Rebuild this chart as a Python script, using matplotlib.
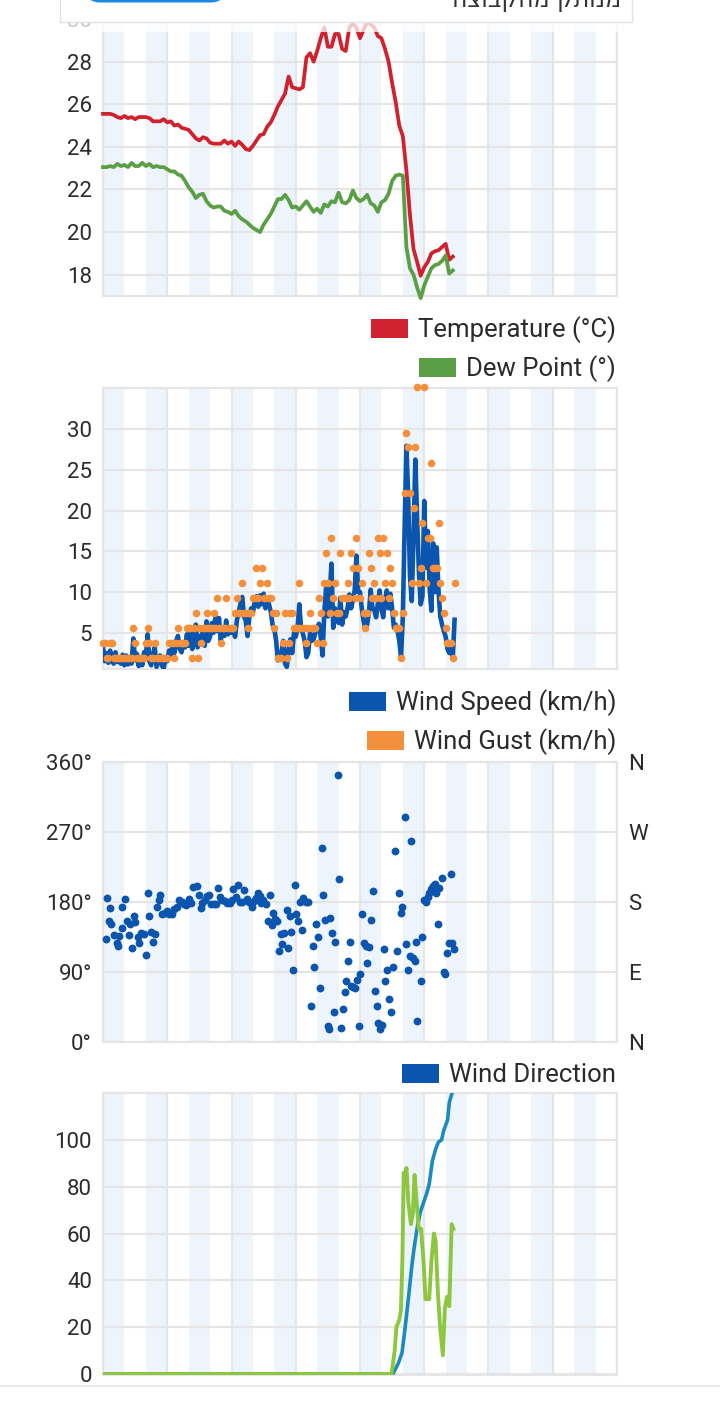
import matplotlib
matplotlib.use("Agg")
import matplotlib.pyplot as plt
from matplotlib.patches import Rectangle, FancyBboxPatch
from matplotlib.lines import Line2D
from matplotlib.transforms import IdentityTransform
import numpy as np

# ---------------- data ----------------
# temperature / dew point, every 10 minutes from 00:00
temperature = [
    25.55, 25.55, 25.55, 25.5, 25.4, 25.35,
    25.45, 25.35, 25.4, 25.3, 25.4, 25.4,
    25.4, 25.35, 25.2, 25.2, 25.2, 25.3,
    25.15, 25.2, 25.0, 25.05, 24.9, 24.85,
    24.8, 24.6, 24.4, 24.3, 24.45, 24.4,
    24.2, 24.15, 24.15, 24.15, 24.3, 24.15,
    24.25, 24.05, 24.25, 24.1, 23.9, 23.85,
    24.05, 24.3, 24.55, 24.6, 24.95, 25.15,
    25.5, 25.9, 26.2, 26.5, 27.3, 26.8,
    26.75, 26.7, 26.8, 28.2, 28.4, 28.0,
    28.5, 29.1, 29.6, 28.7, 28.7, 29.3,
    29.3, 28.6, 28.5, 29.6, 29.8, 29.6,
    29.1, 29.5, 29.85, 29.75, 29.6, 29.2,
    29.1, 28.6, 28.0, 27.0, 26.1, 25.0,
    24.5, 22.9, 20.8, 19.2, 18.6, 17.95,
    18.35, 18.6, 19.0, 19.1, 19.15, 19.3,
    19.45, 18.7, 18.85,
]
dew_point = [
    23.05, 23.05, 23.1, 23.05, 23.2, 23.1,
    23.15, 23.05, 23.25, 23.1, 23.1, 23.25,
    23.1, 23.2, 23.05, 23.1, 23.05, 23.05,
    22.95, 22.85, 22.85, 22.7, 22.65, 22.4,
    22.1, 21.9, 21.6, 21.75, 21.8, 21.45,
    21.25, 21.15, 21.2, 21.2, 21.0, 20.95,
    20.85, 21.0, 20.75, 20.6, 20.5, 20.35,
    20.2, 20.1, 20.0, 20.35, 20.6, 20.85,
    21.2, 21.55, 21.55, 21.75, 21.5, 21.15,
    21.2, 21.05, 21.25, 21.45, 21.2, 20.95,
    21.1, 20.9, 21.3, 21.2, 21.45, 21.4,
    21.85, 21.4, 21.35, 21.5, 21.95, 21.6,
    21.45, 21.55, 21.75, 21.35, 21.25, 20.95,
    21.4, 21.5, 21.8, 22.4, 22.65, 22.7,
    22.65, 19.3, 18.3, 18.0, 17.4, 16.9,
    17.5, 17.9, 18.3, 18.45, 18.5, 18.65,
    18.9, 18.05, 18.2,
]

# wind speed / gust (km/h), every 5 minutes from 00:00
wind_speed = [
    3.2, 1.5, 2.5, 1.3, 2.8, 1.5, 1.2, 2.6, 1.4, 1.8, 1.2, 2.3,
    1.0, 2.2, 1.1, 2.0, 1.2, 4.3, 1.6, 2.4, 0.9, 2.0, 1.0, 2.6,
    2.0, 4.8, 1.5, 1.0, 2.4, 3.2, 0.8, 1.5, 2.2, 1.0, 0.6, 2.0,
    1.5, 2.8, 2.2, 3.5, 2.5, 4.0, 4.6, 3.0, 2.6, 3.8, 3.2, 4.8,
    3.4, 5.6, 3.0, 4.2, 6.0, 3.2, 4.6, 3.8, 5.5, 3.4, 6.4, 4.0,
    4.5, 6.2, 5.0, 7.0, 5.2, 6.8, 4.0, 5.6, 4.6, 6.5, 4.8, 5.4,
    5.0, 5.4, 4.5, 6.5, 7.5, 8.5, 9.4, 7.0, 6.5, 4.6, 7.0, 8.0,
    7.5, 8.8, 9.5, 8.2, 9.6, 8.5, 9.8, 8.0, 9.2, 8.5, 7.6, 6.0,
    5.5, 4.0, 1.6, 1.8, 2.5, 4.0, 1.2, 0.8, 3.0, 4.2, 2.5, 5.0,
    4.5, 5.5, 8.5, 5.5, 4.9, 4.0, 2.0, 2.5, 5.0, 4.0, 4.2, 5.0,
    5.4, 6.1, 4.5, 2.2, 7.5, 10.5, 7.0, 9.5, 13.5, 5.6, 8.0, 6.5,
    6.2, 9.3, 6.0, 7.5, 7.0, 8.0, 9.7, 8.0, 9.0, 10.2, 14.5, 10.0,
    10.0, 8.0, 6.5, 5.4, 6.0, 7.5, 10.3, 8.0, 7.8, 6.9, 8.5, 10.2,
    8.0, 6.9, 9.0, 10.2, 8.0, 9.8, 8.0, 5.6, 6.0, 5.3, 4.0, 2.0,
    7.0, 18.0, 28.0, 21.8, 12.0, 8.9, 17.0, 26.3, 19.0, 12.6, 8.5, 9.5,
    21.2, 13.0, 17.5, 10.5, 7.7, 16.0, 10.0, 15.5, 10.1, 7.0, 6.0, 5.2,
    4.5, 3.0, 2.5, 3.2, 2.0, 6.6,
]
wind_gust = [
    3.7, 3.7, 1.9, 1.9, 3.7, 3.7, 1.9, 1.9, 1.9, 1.9, 1.9, 1.9,
    1.9, 1.9, 1.9, 1.9, 1.9, 5.6, 3.7, 1.9, 1.9, 1.9, 1.9, 1.9,
    3.7, 5.6, 3.7, 1.9, 1.9, 3.7, 1.9, 1.9, 1.9, 1.9, 1.9, 1.9,
    1.9, 3.7, 3.7, 3.7, 1.9, 3.7, 5.6, 3.7, 3.7, 3.7, 3.7, 5.6,
    5.6, 5.6, 1.9, 5.6, 7.4, 1.9, 5.6, 3.7, 5.6, 5.6, 7.4, 5.6,
    5.6, 5.6, 7.4, 5.6, 9.3, 5.6, 3.7, 5.6, 5.6, 9.3, 5.6, 5.6,
    5.6, 5.6, 7.4, 9.3, 7.4, 7.4, 11.1, 7.4, 7.4, 5.6, 7.4, 7.4,
    9.3, 9.3, 13.0, 9.3, 11.1, 13.0, 9.3, 9.3, 11.1, 9.3, 9.3, 7.4,
    5.6, 7.4, 1.9, 1.9, 1.9, 3.7, 7.4, 1.9, 3.7, 7.4, 7.4, 5.6,
    5.6, 5.6, 11.1, 5.6, 5.6, 5.6, 3.7, 5.6, 7.4, 5.6, 5.6, 5.6,
    3.7, 9.3, 7.4, 3.7, 11.1, 14.8, 11.1, 7.4, 16.7, 9.3, 11.1, 7.4,
    7.4, 14.8, 9.3, 9.3, 9.3, 11.1, 9.3, 14.8, 13.0, 9.3, 16.7, 13.0,
    9.3, 11.1, 7.4, 5.6, 7.4, 14.8, 13.0, 9.3, 11.1, 9.3, 16.7, 14.8,
    9.3, 16.7, 11.1, 14.8, 9.3, 13.0, 11.1, 7.4, 5.6, 5.6, 5.6, 1.9,
    7.4, 22.2, 29.6, 27.8, 22.2, 11.1, 20.4, 27.8, 35.2, 11.1, 13.0, 18.5,
    35.2, 11.1, 16.7, 16.7, 25.9, 13.0, 13.0, 13.0, 18.5, 11.1, 9.3, 7.4,
    5.6, 3.7, 3.7, 3.7, 1.9, 11.1,
]

# wind direction observations (hour of day, degrees)
dir_hours = [0.13, 0.17, 0.26, 0.32, 0.38, 0.53, 0.64, 0.68, 0.77, 0.87, 0.91, 1.02,
             1.13, 1.23, 1.28, 1.36, 1.45, 1.51, 1.62, 1.70, 1.79, 1.91, 2.00, 2.09,
             2.17, 2.26, 2.34, 2.43, 2.51, 2.60, 2.68, 2.77, 2.89, 2.98, 3.10, 3.23,
             3.32, 3.47, 3.57, 3.68, 3.79, 3.89, 4.00, 4.10, 4.21, 4.38, 4.47, 4.57,
             4.64, 4.74, 4.85, 4.96, 5.06, 5.17, 5.28, 5.38, 5.45, 5.55, 5.70, 5.81,
             5.91, 6.02, 6.09, 6.23, 6.30, 6.38, 6.49, 6.60, 6.72, 6.83, 6.94, 7.04,
             7.15, 7.26, 7.34, 7.40, 7.49, 7.62, 7.72, 7.79, 7.87, 7.96, 8.04, 8.13,
             8.21, 8.30, 8.38, 8.47, 8.57, 8.64, 8.72, 8.79, 8.89, 8.96, 9.02, 9.11,
             9.21, 9.28, 9.36, 9.47, 9.57, 9.70, 9.79, 9.87, 9.96, 10.04, 10.11, 10.21,
             10.28, 10.38, 10.49, 10.55, 10.60, 10.70, 10.77, 10.85, 10.96, 11.04, 11.11, 11.19,
             11.28, 11.36, 11.45, 11.53, 11.57, 11.66, 11.77, 11.87, 11.94, 12.02, 12.09, 12.17,
             12.26, 12.34, 12.43, 12.51, 12.60, 12.68, 12.79, 12.85, 12.94, 13.02, 13.11, 13.19,
             13.28, 13.36, 13.45, 13.53, 13.62, 13.74, 13.83, 13.91, 13.98, 14.09, 14.15, 14.23,
             14.32, 14.40, 14.47, 14.57, 14.60, 14.66, 14.83, 14.89, 14.98, 15.06, 15.17, 15.23,
             15.32, 15.43, 15.50, 15.55, 15.64, 15.70, 15.81, 15.91, 15.98, 16.06, 16.17, 16.23,
             16.30, 16.40]
dir_deg = [133, 185, 156, 172, 152, 138, 127, 124, 136, 174, 146, 184,
           156, 138, 152, 121, 162, 154, 135, 127, 140, 139, 112, 192,
           162, 141, 129, 139, 174, 182, 189, 165, 166, 169, 164, 164,
           171, 173, 183, 180, 178, 176, 184, 179, 199, 201, 189, 172,
           179, 183, 188, 189, 177, 177, 177, 198, 187, 183, 181, 179,
           179, 183, 197, 187, 202, 180, 180, 195, 184, 180, 174, 181,
           185, 192, 188, 179, 183, 177, 155, 189, 150, 166, 158, 156,
           117, 139, 126, 140, 170, 121, 162, 142, 93, 202, 165, 155,
           180, 144, 185, 180, 180, 46, 123, 97, 152, 135, 69, 249,
           189, 157, 20, 17, 159, 140, 39, 129, 343, 209, 18, 42,
           64, 79, 104, 129, 72, 71, 69, 80, 20, 87, 165, 127,
           123, 102, 122, 157, 194, 65, 46, 24, 17, 22, 120, 79,
           92, 55, 39, 96, 246, 117, 192, 166, 174, 289, 126, 92,
           110, 258, 108, 104, 128, 27, 78, 135, 182, 180, 187, 192,
           197, 200, 203, 191, 152, 198, 211, 90, 87, 115, 127, 216,
           127, 120]
compass_labels = ["N", "E", "S", "W", "N"]

# rain (hour of day, value)
rain_rate_hours = [0, 13.47, 13.62, 13.70, 13.83, 13.91, 13.98, 14.04, 14.10, 14.17,
                   14.26, 14.38, 14.47, 14.55, 14.64, 14.74, 14.85, 14.96, 15.06, 15.23,
                   15.34, 15.45, 15.53, 15.64, 15.74, 15.87, 15.96, 16.06, 16.17, 16.28, 16.36]
rain_rate = [0, 0, 10, 20, 23, 27, 49, 86, 84, 88,
             73, 64, 69, 85, 74, 62, 62, 49, 32, 32,
             49, 60, 57, 34, 20, 8, 28, 33, 29, 64, 62]
rain_total_hours = [0, 13.53, 13.79, 13.96, 14.11, 14.28, 14.43, 14.53, 14.68, 14.81,
                    14.96, 15.11, 15.23, 15.38, 15.53, 15.66, 15.81, 15.91, 16.09, 16.17,
                    16.30, 16.38]
rain_total = [0, 0, 4.6, 9, 20, 34, 47, 54, 63, 69,
              73, 77, 81, 91, 96, 99, 100, 104, 108.5, 116,
              120, 121]

header_text = "מנותק מהקבוצה"

# ---------------- style ----------------
W, H = 720, 1401
plt.rcParams["font.family"] = ["Roboto", "DejaVu Sans"]
STRIPE = "#EDF4FB"
GRID = "#E5E5E5"
TXT = "#2B2B2B"
RED = "#D0222E"
GREEN = "#5A9F45"
BLUE = "#0B55AE"
ORANGE = "#F4903C"
RAIN_BLUE = "#1A8BBF"
RAIN_GREEN = "#8DC63F"
TICK_FS = 16
LEG_FS = 18.5

fig = plt.figure(figsize=(W / 100, H / 100), dpi=100)
fig.patch.set_facecolor("white")
L, R = 103, 617
ID = IdentityTransform()


def place(top, bottom):
    return fig.add_axes([L / W, 1 - bottom / H, (R - L) / W, (bottom - top) / H])


def style(ax, yticks, ylim):
    ax.set_xlim(0, 24)
    ax.set_ylim(*ylim)
    for k in range(0, 24, 2):
        ax.axvspan(k, k + 1, color=STRIPE, lw=0, zorder=0)
    ax.set_xticks(range(0, 25, 3))
    ax.set_yticks(yticks)
    ax.set_axisbelow(True)
    ax.grid(True, color=GRID, lw=1.6)
    ax.tick_params(length=0, labelsize=TICK_FS, labelcolor=TXT, pad=8,
                   labelbottom=False)
    for s in ax.spines.values():
        s.set_color(GRID)
        s.set_linewidth(1.6)


t10 = np.arange(len(temperature)) / 6.0
t5 = np.arange(len(wind_speed)) / 12.0

# panel 1: temperature / dew point
ax1 = place(18, 296)
style(ax1, [18, 20, 22, 24, 26, 28, 30], (17.0, 30.05))
ax1.plot(t10, temperature, color=RED, lw=2.7, zorder=3, clip_on=False)
ax1.plot(t10, dew_point, color=GREEN, lw=2.7, zorder=3, clip_on=False)

# panel 2: wind speed / gust
ax2 = place(388, 669)
style(ax2, [5, 10, 15, 20, 25, 30], (0.54, 35.1))
ax2.plot(t5, wind_speed, color=BLUE, lw=3.3, zorder=3)
ax2.scatter(t5, wind_gust, s=30, color=ORANGE, linewidths=0, zorder=4,
            clip_on=False)

# panel 3: wind direction
ax3 = place(762, 1042)
style(ax3, [0, 90, 180, 270, 360], (0, 360))
ax3.set_yticklabels([f"{v}°" for v in [0, 90, 180, 270, 360]])
ax3.scatter(dir_hours, dir_deg, s=32, color=BLUE, linewidths=0, zorder=4,
            clip_on=False)
ax3r = ax3.twinx()
ax3r.set_ylim(0, 360)
ax3r.set_yticks([0, 90, 180, 270, 360])
ax3r.set_yticklabels(compass_labels)
ax3r.tick_params(length=0, labelsize=TICK_FS, labelcolor=TXT, pad=8)
for s in ax3r.spines.values():
    s.set_visible(False)

# panel 4: rain
ax4 = place(1093, 1375)
style(ax4, [0, 20, 40, 60, 80, 100], (-0.4, 120))
ax4.plot(rain_total_hours, rain_total, color=RAIN_BLUE, lw=2.6, zorder=3)
ax4.plot(rain_rate_hours, rain_rate, color=RAIN_GREEN, lw=2.8, zorder=4)

# legends
fig.canvas.draw()
renderer = fig.canvas.get_renderer()


def legend(label, color, baseline):
    t = fig.text(616, H - baseline, label, transform=ID, ha="right",
                 va="baseline", fontsize=LEG_FS, color=TXT)
    bb = t.get_window_extent(renderer)
    x1 = bb.x0 - 10
    fig.add_artist(Rectangle((x1 - 37, H - baseline - 1), 37, 19.5,
                             transform=ID, facecolor=color, edgecolor="none"))


legend("Temperature (°C)", RED, 337)
legend("Dew Point (°)", GREEN, 376)
legend("Wind Speed (km/h)", BLUE, 710)
legend("Wind Gust (km/h)", ORANGE, 749)
legend("Wind Direction", BLUE, 1082)

# sticky header overlay
fig.add_artist(Rectangle((0, H - 32), W, 40, transform=ID, facecolor="white",
                         edgecolor="none", alpha=0.75, zorder=10))
fig.add_artist(Rectangle((60, H - 21.5), 572, 40, transform=ID,
                         facecolor="white", edgecolor="#E2E2E2", lw=1.0,
                         zorder=11))
fig.add_artist(FancyBboxPatch((86, H - 2.5), 139, 40,
                              boxstyle="round,pad=0,rounding_size=14",
                              transform=ID, facecolor="#1E88E5",
                              edgecolor="none", zorder=12))
fig.text(621, H - 7, header_text[::-1], transform=ID, ha="right",
         va="baseline", fontsize=17, color="#333333",
         family=["DejaVu Sans"], zorder=12)

# bottom separator
fig.add_artist(Line2D([0, W], [H - 1386, H - 1386], transform=ID,
                      color="#E4E4E4", lw=1.2))

fig.savefig("out.png", dpi=100, facecolor="white")
